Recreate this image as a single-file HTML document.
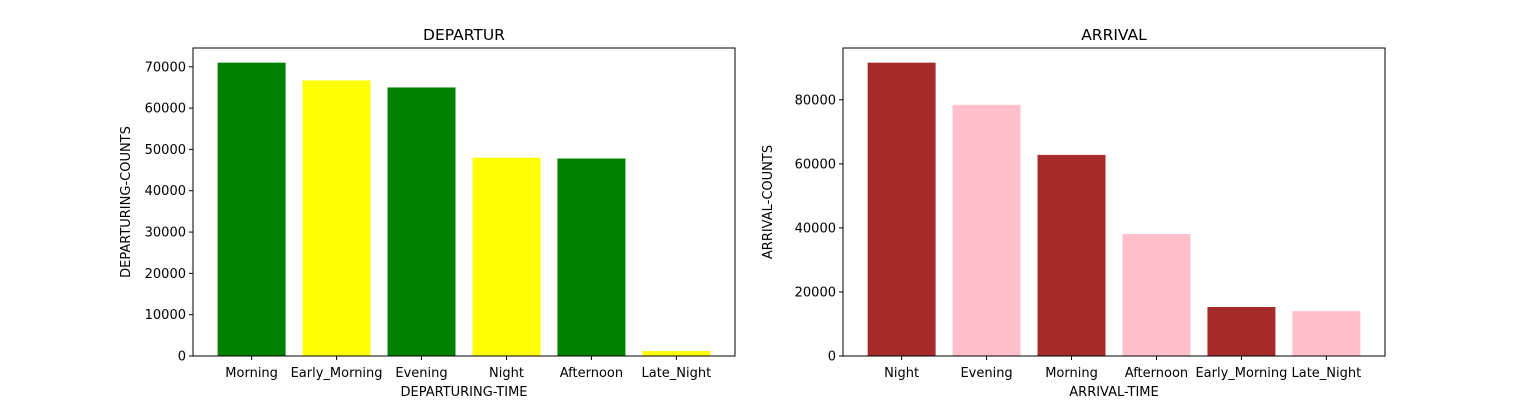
<!DOCTYPE html>
<html><head><meta charset="utf-8"><style>
body{margin:0;background:#fff;font-family:"Liberation Sans","DejaVu Sans",sans-serif;}
svg text{font-family:"DejaVu Sans","Liberation Sans",sans-serif;font-size:13px;fill:#000;}
</style></head><body>
<svg id="c" width="1539" height="400"></svg>
<script>
const depCats=["Morning","Early_Morning","Evening","Night","Afternoon","Late_Night"];
const depVals=[71000,66700,65000,48000,47800,1200];
const depColors=["green","yellow","green","yellow","green","yellow"];
const depTicks=[0,10000,20000,30000,40000,50000,60000,70000];
const arrCats=["Night","Evening","Morning","Afternoon","Early_Morning","Late_Night"];
const arrVals=[91600,78400,62800,38100,15300,14000];
const arrColors=["brown","pink","brown","pink","brown","pink"];
const arrTicks=[0,20000,40000,60000,80000];
const NS="http://www.w3.org/2000/svg";
const svg=document.getElementById('c');
function mk(t,a,p){const e=document.createElementNS(NS,t);for(const k in a)e.setAttribute(k,a[k]);(p||svg).appendChild(e);return e;}
function panel(x0,x1,y0,y1,cats,vals,colors,ticks,title,xl,yl,key){
 const g=mk('g',{});
 
 
 const ymax=Math.max(...vals)*1.05;
 const xmin=-0.69,xmax=cats.length-1+0.69;
 const sx=v=>x0+(v-xmin)/(xmax-xmin)*(x1-x0);
 const sy=v=>y1-v/ymax*(y1-y0);
 const bw=0.8*(x1-x0)/(xmax-xmin);
 vals.forEach((v,i)=>{
  const r=mk('rect',{x:sx(i)-bw/2,y:sy(v),width:bw,height:y1-sy(v),fill:colors[i]},g);
  
  
  mk('line',{x1:sx(i),x2:sx(i),y1:y1,y2:y1+4,stroke:'#000'},g);
  const t=mk('text',{x:sx(i),y:y1+21,'text-anchor':'middle'},g);t.textContent=cats[i];
  
  
 });
 ticks.forEach(v=>{
  mk('line',{x1:x0-4,x2:x0,y1:sy(v),y2:sy(v),stroke:'#000'},g);
  const t=mk('text',{x:x0-7,y:sy(v)+4.5,'text-anchor':'end'},g);t.textContent=v;
  
  
 });
 const fr=mk('rect',{x:x0,y:y0,width:x1-x0,height:y1-y0,fill:'none',stroke:'#000','stroke-width':1},g);
 
 
 const tt=mk('text',{x:(x0+x1)/2,y:y0-8,'text-anchor':'middle','style':'font-size:15.5px'},g);tt.textContent=title;
 
 
 const xt=mk('text',{x:(x0+x1)/2,y:y1+40,'text-anchor':'middle'},g);xt.textContent=xl;
 
 
 const cy=(y0+y1)/2,cx=x0-(key==='dep'?63:71);
 const yt=mk('text',{x:cx,y:cy,'text-anchor':'middle',transform:`rotate(-90 ${cx} ${cy})`},g);yt.textContent=yl;
 
 
}
panel(193,735,48,356,depCats,depVals,depColors,depTicks,"DEPARTUR","DEPARTURING-TIME","DEPARTURING-COUNTS","dep");
panel(843,1385,48,356,arrCats,arrVals,arrColors,arrTicks,"ARRIVAL","ARRIVAL-TIME","ARRIVAL-COUNTS","arr");
</script>
</body></html>
